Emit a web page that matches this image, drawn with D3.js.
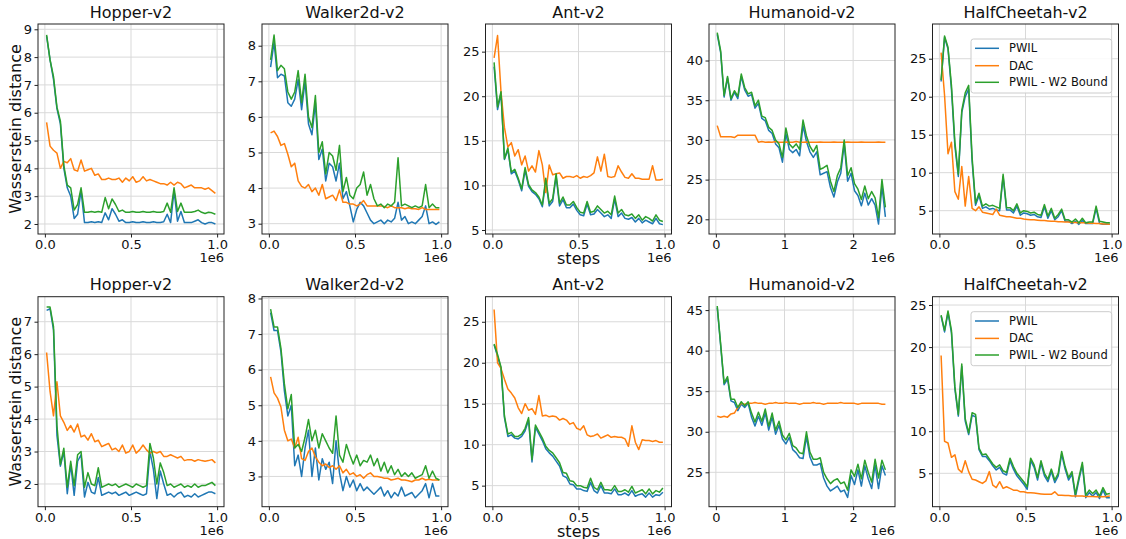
<!DOCTYPE html>
<html><head><meta charset="utf-8">
<script src="https://cdn.jsdelivr.net/npm/d3@7"></script>
<style>
body{margin:0;background:#fff;}
svg text{font-family:"DejaVu Sans",sans-serif;fill:#111;}
</style></head><body>
<svg id="c" width="1126" height="539"></svg>
<script>
// ---------- data ----------
const steps1M = [0.01,0.03,0.05,0.07,0.09,0.11,0.13,0.15,0.17,0.19,0.21,0.23,0.25,0.27,0.29,0.31,0.33,0.35,0.37,0.39,0.41,0.43,0.45,0.47,0.49,0.51,0.53,0.55,0.57,0.59,0.61,0.63,0.65,0.67,0.69,0.71,0.73,0.75,0.77,0.79,0.81,0.83,0.85,0.87,0.89,0.91,0.93,0.95,0.97,0.99];
const stepsHum = [0.02,0.07,0.12,0.17,0.22,0.27,0.32,0.37,0.42,0.47,0.52,0.57,0.62,0.67,0.72,0.77,0.82,0.87,0.92,0.97,1.02,1.07,1.12,1.17,1.22,1.27,1.32,1.37,1.42,1.47,1.52,1.57,1.62,1.67,1.72,1.77,1.82,1.87,1.92,1.97,2.02,2.07,2.12,2.17,2.22,2.27,2.32,2.37,2.42,2.47];
const xTicks1M = [0, 0.5, 1.0];
const xTickLabels1M = ["0.0","0.5","1.0"];
const xTicksHum = [0, 1, 2];
const xTickLabelsHum = ["0","1","2"];
const titles = ["Hopper-v2","Walker2d-v2","Ant-v2","Humanoid-v2","HalfCheetah-v2"];
const seriesNames = ["PWIL","DAC","PWIL - W2 Bound"];
const seriesColors = ["#1f77b4","#ff7f0e","#2ca02c"];

// top row
const hopperTopPWIL = [8.75,7.9,7.2,6.15,5.6,4.0,3.3,3.0,2.2,2.35, 3.2,2.05,2.05,2.08,2.05,2.08,2.05,2.4,2.15,2.55, 2.35,2.1,2.15,2.05,2.05,2.08,2.05,2.05,2.08,2.05, 2.05,2.08,2.05,2.05,2.08,2.35,2.05,3.2,2.1,2.45, 2.05,2.05,2.05,2.1,2.15,2.05,2.0,2.05,2.05,2.0];
const hopperTopDAC = [5.65,4.8,4.65,4.55,4.0,4.25,4.2,4.35,3.95,3.9, 4.3,3.9,3.95,4.0,3.75,3.8,3.6,3.6,3.65,3.6, 3.6,3.65,3.5,3.65,3.55,3.7,3.5,3.55,3.7,3.55, 3.6,3.55,3.5,3.45,3.45,3.4,3.5,3.4,3.5,3.45, 3.3,3.35,3.4,3.3,3.3,3.3,3.25,3.3,3.2,3.1];
const hopperTopW2 = [8.8,7.9,7.3,6.2,5.7,4.1,3.4,3.3,2.5,2.7, 3.3,2.42,2.42,2.45,2.42,2.45,2.42,2.95,2.55,2.9, 2.7,2.45,2.5,2.42,2.42,2.45,2.42,2.42,2.45,2.42, 2.42,2.45,2.42,2.42,2.45,2.75,2.42,3.3,2.45,2.75, 2.42,2.42,2.42,2.45,2.5,2.42,2.38,2.42,2.4,2.35];

const walkerTopPWIL = [7.4,8.1,7.1,7.2,7.15,6.4,6.3,6.5,7.05,6.2, 7.0,5.8,5.5,6.4,4.8,5.1,4.2,4.7,4.6,4.2, 4.7,3.7,3.9,3.5,3.05,3.4,3.6,3.5,3.3,3.1, 3.0,3.05,3.1,3.0,3.1,3.05,3.15,3.6,3.1,3.2, 3.0,3.05,3.0,3.1,3.2,3.5,3.0,3.05,2.98,3.05];
const walkerTopDAC = [5.55,5.6,5.45,5.2,5.25,4.95,4.6,4.7,4.2,4.05, 4.0,4.1,3.9,4.0,3.8,4.1,3.7,3.75,3.8,3.65, 3.95,3.6,3.6,3.55,3.55,3.5,3.55,3.65,3.5,3.5, 3.5,3.5,3.5,3.48,3.45,3.5,3.45,3.45,3.45,3.42, 3.45,3.42,3.42,3.4,3.45,3.4,3.4,3.4,3.4,3.4];
const walkerTopW2 = [7.6,8.3,7.3,7.45,7.35,6.7,6.5,6.7,7.3,6.4, 7.2,6.0,5.7,6.6,5.0,5.3,4.4,5.0,4.9,4.5, 5.2,3.9,4.3,3.8,3.7,4.0,4.1,4.45,3.8,4.1, 3.7,3.5,3.55,3.45,3.55,3.5,3.6,4.85,3.5,3.55, 3.5,3.45,3.5,3.45,3.5,4.1,3.45,3.55,3.45,3.45];

const antTopPWIL = [23.3,18.5,20.3,12.9,14.0,11.3,11.6,10.6,9.4,11.7, 9.9,9.3,9.0,8.5,7.6,10.5,7.7,8.2,11.0,7.7, 8.4,7.5,7.5,7.9,7.2,6.7,6.6,7.9,6.7,6.8, 7.3,6.9,6.5,6.7,6.3,8.5,6.5,6.9,6.3,6.2, 6.4,5.9,6.3,5.8,6.1,5.9,5.7,6.3,5.7,5.6];
const antTopDAC = [24.3,26.8,20.5,16.5,14.3,14.8,13.3,14.0,12.3,13.3, 11.6,12.2,11.5,13.9,12.3,9.2,12.3,11.2,11.3,11.4, 10.8,11.0,11.0,10.9,11.1,10.8,11.0,10.9,11.1,11.4, 13.2,11.6,13.5,11.0,10.9,11.0,12.2,11.5,10.9,10.8, 11.3,10.8,10.8,10.7,10.7,10.7,12.2,10.6,10.6,10.7];
const antTopW2 = [23.8,18.8,20.5,13.0,14.2,11.5,11.8,10.8,9.6,12.0, 10.1,9.5,9.2,8.7,7.8,10.8,8.0,8.5,11.3,8.0, 8.7,7.8,7.8,8.2,7.5,7.0,6.9,8.2,7.0,7.1, 7.7,7.3,6.9,7.1,6.7,8.8,6.9,7.3,6.7,6.6, 6.8,6.3,6.7,6.1,6.5,6.3,6.0,6.7,6.1,5.95];

const humTopPWIL = [43.3,41.0,35.4,37.8,35.0,36.0,35.2,38.0,36.3,35.5, 35.7,34.0,34.6,32.7,32.4,31.2,30.8,29.5,29.0,27.2, 30.8,28.8,28.4,28.8,28.0,31.8,29.8,28.5,27.8,28.5, 25.6,25.8,26.0,24.0,22.8,24.7,25.8,29.5,24.8,25.8, 23.6,23.0,21.7,23.3,21.8,22.6,21.8,19.4,24.2,20.3];
const humTopDAC = [31.8,30.4,30.4,30.4,30.4,30.3,30.6,30.6,30.6,30.6, 30.6,30.6,29.7,29.8,29.7,29.75,29.7,29.8,29.7,29.7, 29.75,29.7,29.7,29.8,29.7,29.7,29.75,29.7,29.7,29.7, 29.75,29.7,29.7,29.7,29.75,29.7,29.7,29.7,29.75,29.7, 29.7,29.7,29.75,29.7,29.7,29.7,29.7,29.75,29.7,29.7];
const humTopW2 = [43.5,41.2,35.6,38.0,35.2,36.2,35.5,38.3,36.6,35.8, 36.0,34.3,35.0,33.0,32.8,31.6,31.2,30.0,29.5,27.8, 31.5,29.5,29.0,29.5,28.8,32.5,30.5,29.2,28.5,29.3, 26.3,26.5,26.8,24.8,23.5,25.5,26.5,30.0,25.5,26.5, 24.5,23.8,22.5,24.2,22.6,23.5,22.7,20.2,25.0,21.5];

const hcTopPWIL = [22.0,27.8,26.3,21.0,13.5,9.5,17.9,20.0,21.0,11.5, 5.7,7.0,5.3,5.5,5.2,5.3,5.1,5.0,9.5,5.1, 5.1,4.7,5.6,4.4,4.7,4.6,4.4,4.5,4.2,4.1, 5.5,4.0,5.0,3.8,4.2,5.0,3.6,3.6,3.3,3.6, 3.2,3.7,3.3,3.3,3.3,5.3,3.3,3.2,3.2,3.2];
const hcTopDAC = [25.8,20.2,12.5,14.0,7.5,6.5,10.8,5.6,9.5,5.3, 5.0,5.5,4.8,4.7,4.6,4.5,5.2,4.4,4.3,4.2, 4.2,4.1,4.0,4.0,3.9,3.85,3.8,3.8,3.75,3.7, 3.7,3.65,3.6,3.6,3.55,3.55,3.5,3.5,3.45,3.45, 3.4,3.4,3.4,3.35,3.35,3.3,3.3,3.25,3.25,3.2];
const hcTopW2 = [22.2,28.0,26.5,21.5,14.0,9.8,18.2,20.5,21.5,12.0, 6.0,7.3,5.6,5.9,5.6,5.7,5.5,5.3,9.8,5.4, 5.4,5.0,5.9,4.7,5.0,4.9,4.7,4.8,4.5,4.4, 5.8,4.3,5.3,4.0,4.5,5.2,3.8,3.8,3.5,3.9, 3.4,4.0,3.4,3.5,3.5,5.6,3.6,3.5,3.4,3.4];

// bottom row
const hopperBotPWIL = [7.35,7.4,6.75,3.5,2.55,3.0,1.7,2.6,1.65,2.7, 2.9,1.6,2.05,1.75,1.7,2.2,1.65,1.7,1.75,1.7, 1.75,1.65,1.7,1.75,1.65,1.7,1.75,1.7,1.65,1.7, 3.0,2.45,1.55,2.4,2.0,1.65,1.7,1.6,1.7,1.75, 1.6,1.65,1.6,1.7,1.6,1.65,1.7,1.75,1.75,1.7];
const hopperBotDAC = [6.05,4.85,4.1,5.15,4.1,3.9,3.65,3.8,3.6,3.85, 3.45,3.5,3.35,3.55,3.3,3.35,3.15,3.2,3.25,3.05, 3.1,3.0,3.2,2.95,3.0,3.2,2.95,3.05,3.2,3.05, 2.95,3.0,2.95,3.0,2.85,2.85,2.9,2.85,2.8,2.85, 2.72,2.75,2.75,2.7,2.75,2.72,2.7,2.72,2.75,2.65];
const hopperBotW2 = [7.45,7.45,6.85,3.8,2.6,3.1,1.9,2.7,1.95,2.9, 3.0,1.9,2.35,2.0,1.95,2.5,1.9,1.95,2.0,1.95, 2.0,1.9,1.95,2.0,1.95,1.9,2.0,1.95,1.9,1.95, 3.25,2.8,2.0,2.65,2.35,1.95,2.0,1.9,1.95,2.0, 1.9,1.95,1.9,2.0,1.9,1.95,1.95,2.0,2.05,1.95];

const walkerBotPWIL = [7.6,7.1,7.1,6.5,5.4,4.7,5.0,3.3,3.6,3.0, 3.8,4.3,3.0,3.8,2.9,3.5,3.2,3.4,2.8,4.0, 3.1,2.6,3.0,2.7,2.9,2.6,2.8,2.6,2.7,2.6, 2.5,2.6,2.7,2.45,2.6,2.4,2.55,2.45,2.7,2.45, 2.5,2.55,2.4,2.5,2.6,2.8,2.4,2.8,2.45,2.45];
const walkerBotDAC = [5.8,5.35,5.2,4.95,4.3,4.0,4.05,3.8,4.1,3.5, 3.45,3.7,3.8,3.55,3.4,3.3,3.35,3.25,3.3,3.2, 3.3,3.1,3.2,3.05,3.1,3.0,3.05,2.95,3.05,3.1, 3.0,3.0,2.98,2.95,2.95,2.9,2.92,2.95,2.9,2.9, 2.88,2.85,2.9,2.9,2.95,2.9,2.92,2.9,2.9,2.9];
const walkerBotW2 = [7.7,7.2,7.2,6.6,5.6,4.9,5.3,3.8,3.9,3.7, 4.1,4.6,4.0,4.3,3.8,4.2,4.0,3.8,3.65,4.7, 3.6,3.4,3.9,3.6,3.35,3.6,3.3,3.45,3.4,3.6, 3.3,3.5,3.15,3.4,3.1,3.3,3.05,3.2,3.0,3.1, 3.0,3.1,2.95,3.0,3.05,3.3,2.95,3.15,2.95,2.9];

const antBotPWIL = [22.2,20.8,19.3,13.3,11.0,11.2,10.8,10.7,11.0,11.7, 13.0,7.9,12.1,11.3,10.5,9.5,9.0,8.6,8.0,7.4, 6.2,6.0,5.2,5.1,4.6,4.6,4.4,4.3,5.4,4.4, 4.1,5.0,4.1,4.1,4.0,4.6,3.9,3.9,4.1,3.8, 4.4,3.7,3.9,4.0,3.6,4.1,3.6,3.9,3.8,4.2];
const antBotDAC = [26.5,20.0,19.3,18.0,16.8,16.3,15.7,14.5,13.8,15.0, 14.2,14.4,13.7,16.0,13.5,13.6,13.4,13.5,13.4,13.0, 13.2,13.0,12.5,12.7,12.0,11.8,12.3,11.2,11.0,11.1, 11.3,10.8,11.0,11.2,10.9,11.0,10.9,10.9,10.7,9.8, 12.3,10.3,9.4,10.6,10.5,10.5,10.4,10.5,10.3,10.3];
const antBotW2 = [22.3,21.0,19.5,13.5,11.3,11.5,11.0,11.0,11.3,12.0, 13.3,8.2,12.4,11.6,10.8,9.8,9.3,9.0,8.4,7.8, 6.6,6.5,5.6,5.5,5.0,5.0,4.8,4.7,5.9,4.8, 4.5,5.4,4.5,4.5,4.4,5.0,4.3,4.3,4.5,4.2, 4.9,4.1,4.3,4.5,4.0,4.6,4.0,4.4,4.2,4.7];

const humBotPWIL = [45.3,40.6,35.8,36.5,33.8,33.6,32.6,33.4,33.0,33.5, 31.8,30.7,31.9,30.8,32.3,30.2,31.8,29.7,30.8,29.1, 28.5,29.3,27.8,27.4,26.8,26.7,29.4,26.9,25.9,25.9, 26.1,24.3,23.3,22.7,23.0,23.3,22.6,22.8,21.9,24.6, 23.5,25.3,23.3,25.8,24.2,23.0,25.9,23.0,25.8,24.6];
const humBotDAC = [31.9,31.8,31.9,31.8,32.2,32.3,33.0,33.5,33.4,33.5, 33.5,33.6,33.5,33.5,33.4,33.5,33.5,33.6,33.5,33.5, 33.6,33.5,33.5,33.5,33.4,33.5,33.5,33.5,33.6,33.5, 33.5,33.4,33.5,33.5,33.5,33.5,33.6,33.5,33.5,33.5, 33.5,33.4,33.5,33.5,33.5,33.5,33.5,33.5,33.4,33.4];
const humBotW2 = [45.5,40.8,36.0,36.8,34.0,34.0,33.0,33.7,33.2,33.7, 32.3,31.2,32.4,31.3,32.8,30.7,32.3,30.2,31.3,29.6, 29.0,29.8,28.3,28.0,27.4,27.3,30.0,27.5,26.6,26.6, 26.8,25.0,24.2,23.6,24.0,24.2,23.6,23.8,22.8,25.3, 24.5,26.0,24.2,26.5,25.0,23.8,26.6,24.3,26.5,25.3];

const hcBotPWIL = [23.7,21.8,24.1,21.7,15.0,11.8,17.7,11.2,9.6,11.9, 11.7,7.8,7.0,7.0,6.5,5.9,5.4,5.7,5.0,4.8, 6.5,5.5,4.7,4.2,3.7,3.1,6.5,5.7,4.2,6.2, 4.7,4.0,5.2,3.9,4.7,7.3,5.5,4.2,4.9,2.2, 4.2,6.0,2.1,2.7,2.3,2.7,2.0,3.0,2.1,2.1];
const hcBotDAC = [19.0,8.8,8.6,6.9,7.2,5.5,5.1,6.5,5.2,4.3, 4.2,4.0,3.8,4.1,5.2,3.6,3.3,4.0,3.2,3.4, 3.2,3.0,3.0,2.8,2.8,2.7,2.7,2.65,2.6,2.55, 2.5,2.5,2.5,2.8,2.4,2.4,2.35,2.35,2.3,2.3, 2.3,2.3,2.25,2.25,2.25,2.2,2.25,2.2,2.25,2.3];
const hcBotW2 = [23.8,22.0,24.3,22.0,15.3,12.0,18.0,11.5,9.8,12.2, 12.0,8.0,7.2,7.3,6.7,6.1,5.7,6.0,5.3,5.1, 6.8,5.8,5.0,4.5,4.0,3.4,6.8,6.0,4.5,6.5, 5.0,4.3,5.5,4.2,5.0,7.6,5.8,4.5,5.2,2.5, 4.5,6.3,2.4,3.0,2.6,3.0,2.3,3.3,2.5,2.6];

// y tick values
const yTicksTop = [[2,3,4,5,6,7,8,9],[3,4,5,6,7,8],[5,10,15,20,25],[20,25,30,35,40],[5,10,15,20,25]];
const yTicksBot = [[2,3,4,5,6,7],[3,4,5,6,7,8],[5,10,15,20,25],[25,30,35,40,45],[5,10,15,20,25]];

// ---------- layout ----------
const colLefts = [38, 262, 485.5, 709, 932.5];
const axW = 186;
const rowTops = [24, 296.7];
const axH = 210;
const yDomTop = [[1.64,9.19],[2.71,8.61],[4.55,28.1],[18.15,44.6],[1.93,29.57]];
const yDomBot = [[1.30,7.77],[2.15,8.05],[2.43,28.06],[20.76,46.65],[1.03,25.99]];

const panels = [
  {row:0,col:0,steps:steps1M,series:[hopperTopPWIL,hopperTopDAC,hopperTopW2]},
  {row:0,col:1,steps:steps1M,series:[walkerTopPWIL,walkerTopDAC,walkerTopW2]},
  {row:0,col:2,steps:steps1M,series:[antTopPWIL,antTopDAC,antTopW2]},
  {row:0,col:3,steps:stepsHum,series:[humTopPWIL,humTopDAC,humTopW2]},
  {row:0,col:4,steps:steps1M,series:[hcTopPWIL,hcTopDAC,hcTopW2]},
  {row:1,col:0,steps:steps1M,series:[hopperBotPWIL,hopperBotDAC,hopperBotW2]},
  {row:1,col:1,steps:steps1M,series:[walkerBotPWIL,walkerBotDAC,walkerBotW2]},
  {row:1,col:2,steps:steps1M,series:[antBotPWIL,antBotDAC,antBotW2]},
  {row:1,col:3,steps:stepsHum,series:[humBotPWIL,humBotDAC,humBotW2]},
  {row:1,col:4,steps:steps1M,series:[hcBotPWIL,hcBotDAC,hcBotW2]}
];

const svg = d3.select("#c");
const gridColor = "#d9d9d9";
const axisColor = "#222";

panels.forEach(p => {
  const isHum = p.col === 3;
  const xDom = isHum ? [-0.1, 2.61] : [-0.04, 1.04];
  const xT = isHum ? xTicksHum : xTicks1M;
  const xL = isHum ? xTickLabelsHum : xTickLabels1M;
  const yDom = p.row === 0 ? yDomTop[p.col] : yDomBot[p.col];
  const yT = p.row === 0 ? yTicksTop[p.col] : yTicksBot[p.col];

  const g = svg.append("g").attr("transform", `translate(${colLefts[p.col]},${rowTops[p.row]})`);
  const x = d3.scaleLinear().domain(xDom).range([0, axW]);
  const y = d3.scaleLinear().domain(yDom).range([axH, 0]);

  // grid
  g.append("g").selectAll("line").data(xT).join("line")
    .attr("x1", d => x(d)).attr("x2", d => x(d)).attr("y1", 0).attr("y2", axH)
    .attr("stroke", gridColor).attr("stroke-width", 1);
  g.append("g").selectAll("line").data(yT).join("line")
    .attr("y1", d => y(d)).attr("y2", d => y(d)).attr("x1", 0).attr("x2", axW)
    .attr("stroke", gridColor).attr("stroke-width", 1);

  // clip
  const cid = `clip${p.row}${p.col}`;
  g.append("clipPath").attr("id", cid).append("rect").attr("width", axW).attr("height", axH);

  // lines
  const line = d3.line().x((d, i) => x(p.steps[i])).y(d => y(d));
  p.series.forEach((s, k) => {
    g.append("path").datum(s).attr("d", line)
      .attr("clip-path", `url(#${cid})`)
      .attr("fill", "none").attr("stroke", seriesColors[k])
      .attr("stroke-width", 1.5).attr("stroke-linejoin", "round");
  });

  // axes
  const xa = g.append("g").attr("transform", `translate(0,${axH})`)
    .call(d3.axisBottom(x).tickValues(xT).tickFormat((d, i) => xL[i]).tickSize(3.5).tickPadding(2.5));
  const ya = g.append("g")
    .call(d3.axisLeft(y).tickValues(yT).tickFormat(d3.format("d")).tickSize(3.5).tickPadding(2.5));
  [xa, ya].forEach(a => {
    a.select(".domain").remove();
    a.selectAll("line").attr("stroke", axisColor);
    a.selectAll("text").attr("font-size", 13).attr("font-family", "DejaVu Sans").attr("fill", "#111");
  });

  // frame
  g.append("rect").attr("width", axW).attr("height", axH)
    .attr("fill", "none").attr("stroke", axisColor).attr("stroke-width", 1);

  // title
  g.append("text").attr("x", axW / 2).attr("y", -6.5).attr("text-anchor", "middle")
    .attr("font-size", 16).text(titles[p.col]);

  // offset text
  g.append("text").attr("x", axW).attr("y", axH + 28).attr("text-anchor", "end")
    .attr("font-size", 13).text("1e6");

  if (p.col === 0) {
    g.append("text").attr("transform", `translate(${15 - colLefts[0]},${axH / 2}) rotate(-90)`)
      .attr("text-anchor", "middle").attr("dy", "0.35em").attr("font-size", 16)
      .text("Wasserstein distance");
  }
  if (p.col === 2) {
    g.append("text").attr("x", axW / 2).attr("y", axH + 30).attr("text-anchor", "middle")
      .attr("font-size", 16).text("steps");
  }
  if (p.col === 4) {
    const lx = 38.5, ly = 15, lw = 140.7, lh = 54;
    const lg = g.append("g").attr("transform", `translate(${lx},${ly})`);
    lg.append("rect").attr("width", lw).attr("height", lh).attr("rx", 2.5)
      .attr("fill", "#fff").attr("fill-opacity", 0.85).attr("stroke", "#cccccc");
    const rowsY = [9.3, 26.7, 43.3];
    seriesNames.forEach((n, k) => {
      lg.append("line").attr("x1", 4).attr("x2", 28).attr("y1", rowsY[k]).attr("y2", rowsY[k])
        .attr("stroke", seriesColors[k]).attr("stroke-width", 1.5);
      lg.append("text").attr("x", 38).attr("y", rowsY[k]).attr("dy", "0.35em")
        .attr("font-size", 11.5).text(n);
    });
  }
});
</script>
</body></html>
